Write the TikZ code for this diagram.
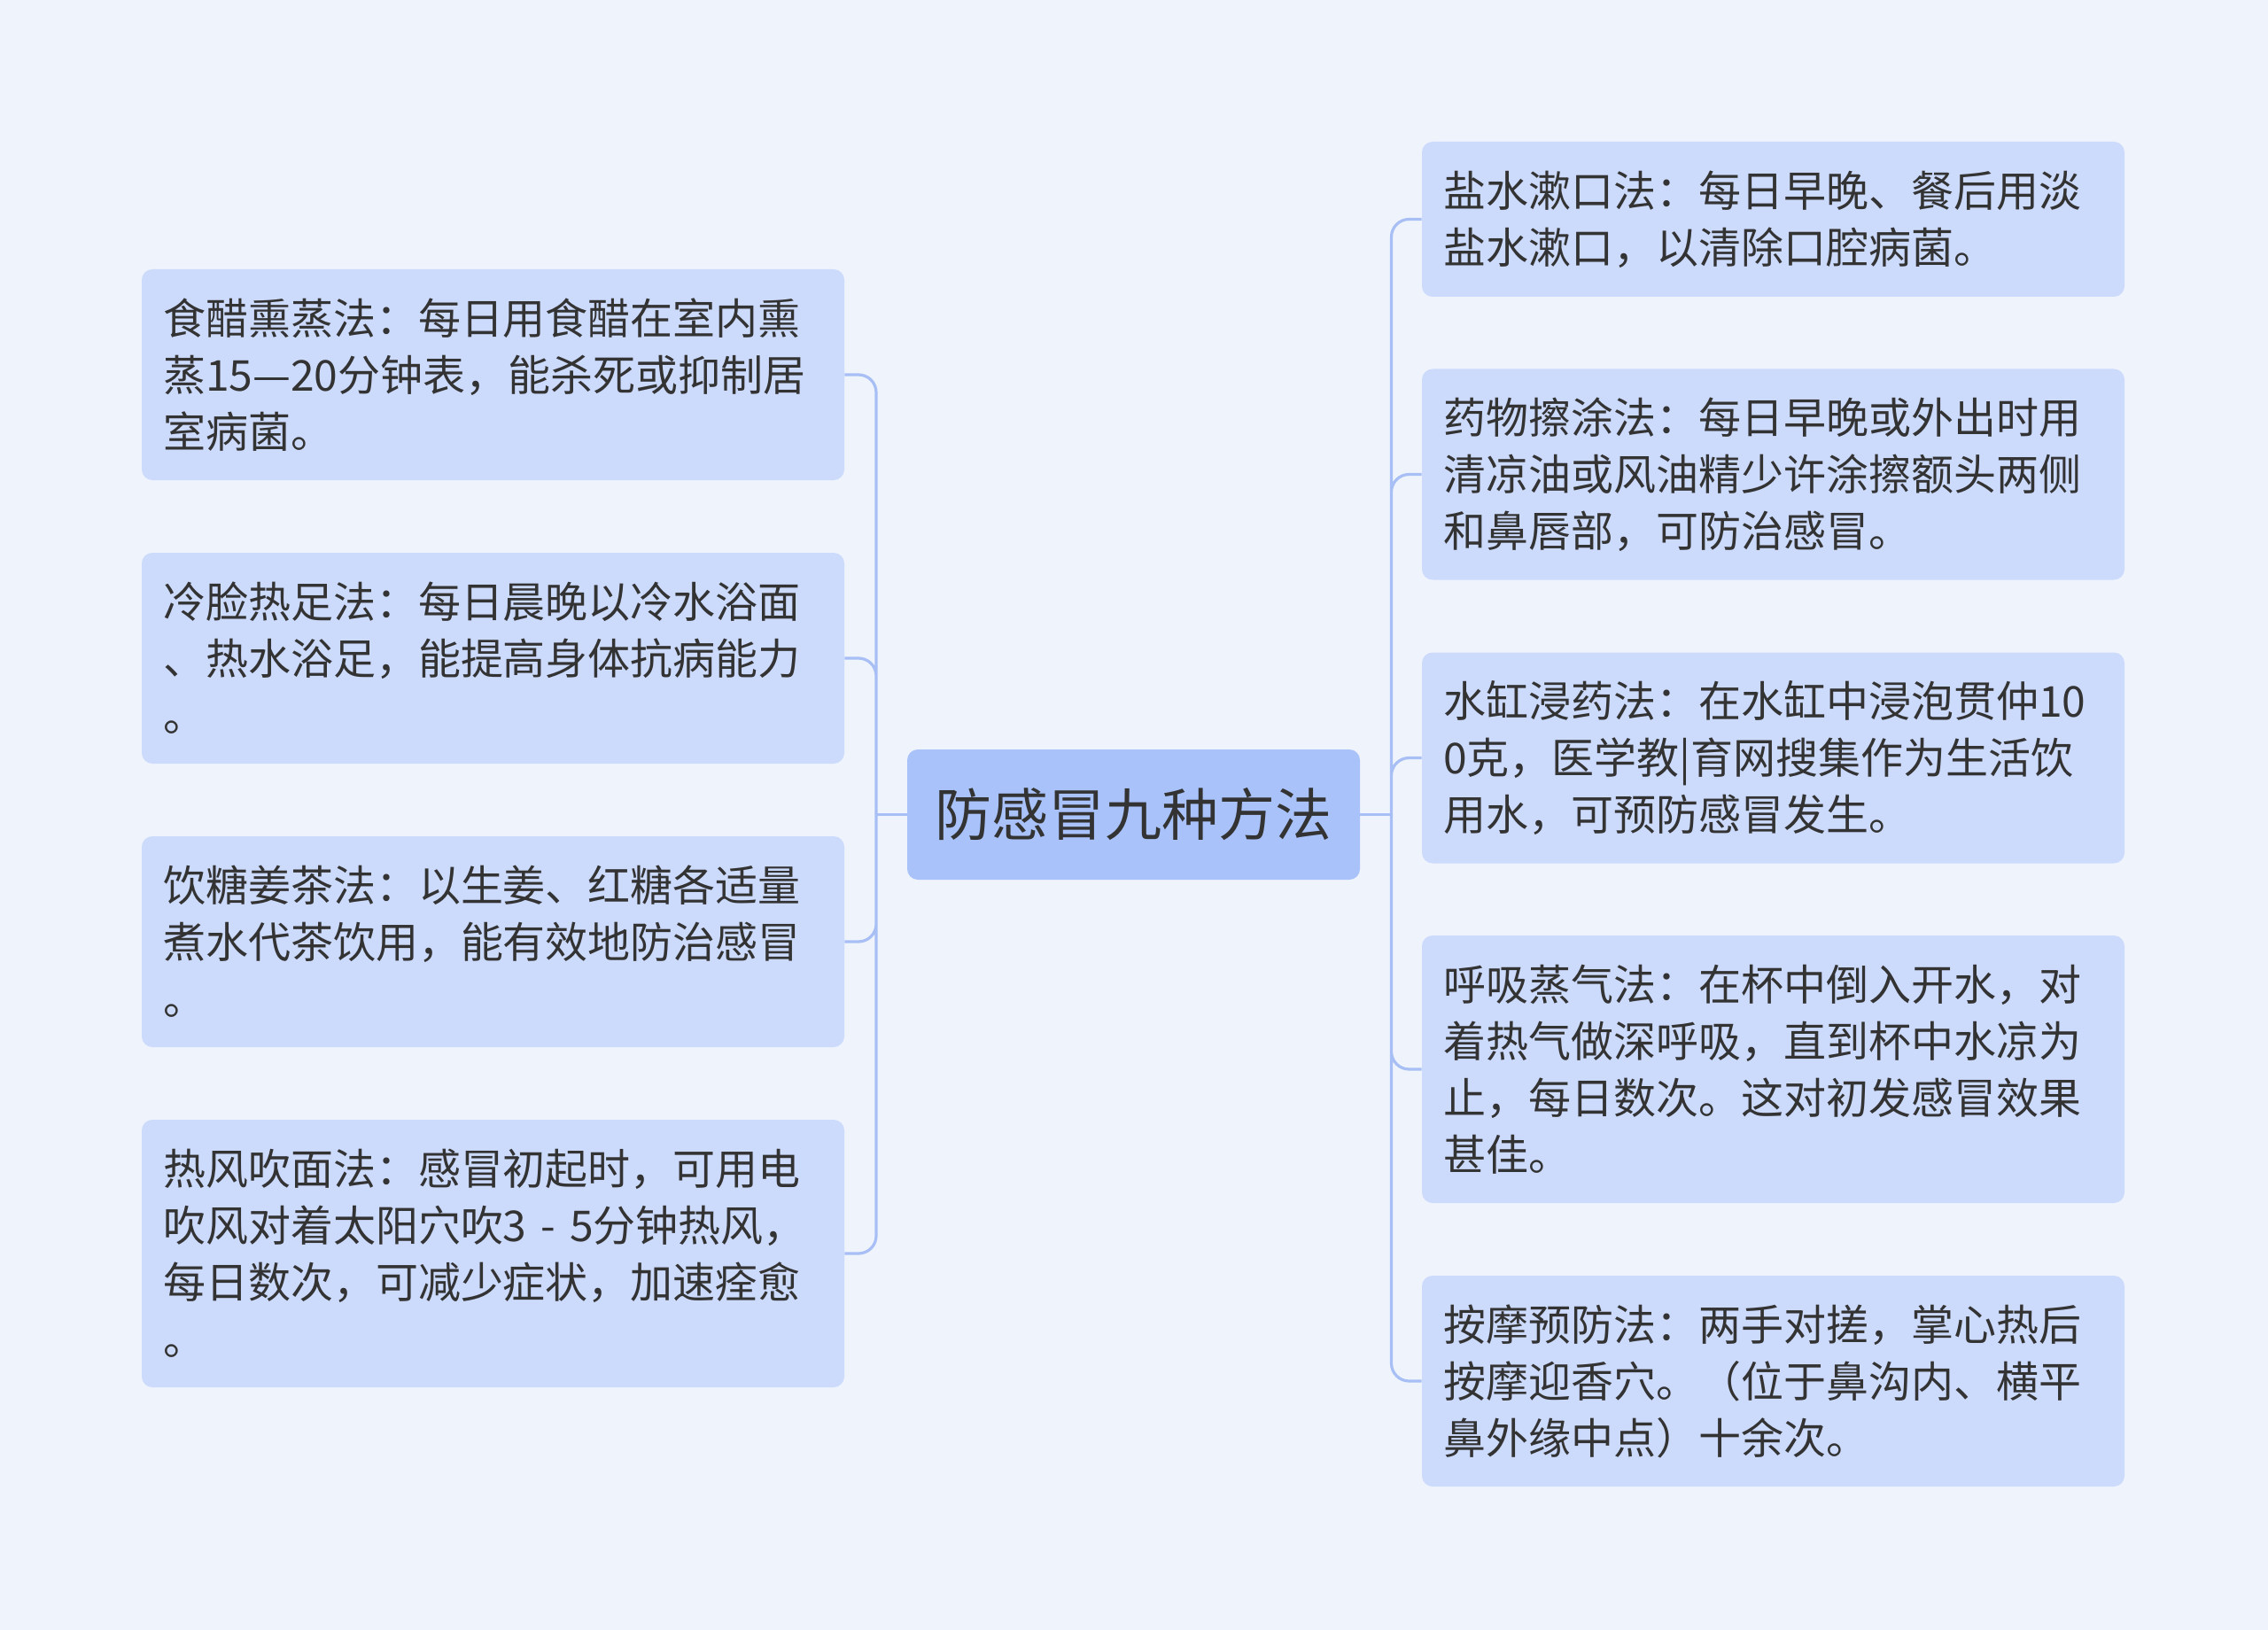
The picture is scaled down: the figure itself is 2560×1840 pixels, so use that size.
\documentclass[tikz,border=0pt]{standalone}
\usepackage{fontspec}
\usepackage{xcolor}
\setmainfont{Noto Sans CJK SC}
\usetikzlibrary{positioning}
\definecolor{bgblue}{HTML}{EFF3FC}
\definecolor{leafblue}{HTML}{CCDAFC}
\definecolor{rootblue}{HTML}{A9C2FA}
\definecolor{linkblue}{HTML}{A7BFF5}
\definecolor{inkgray}{HTML}{333333}

\begin{document}
\begin{tikzpicture}[x=0.5pt, y=-0.5pt,
        leaf/.style={rectangle, rounded corners=6pt, fill=leafblue, text=inkgray, text width=372.5pt, inner xsep=12pt, inner ysep=0pt, minimum height=119pt, align=left, font=\fontsize{24}{32}\selectfont},
        root/.style={rectangle, rounded corners=6pt, fill=rootblue, text=inkgray, minimum width=255.5pt, minimum height=73.5pt, font=\fontsize{32}{38}\selectfont},
        link/.style={draw=linkblue, line width=1.6pt, rounded corners=10pt}]
                        \fill[bgblue] (0, 0) rectangle (2560, 1840);
                        \useasboundingbox (0, 0) rectangle (2560, 1840);
                        \node[root] (root) at (1279.5, 919.5) {防感冒九种方法};
                        \node[leaf] (l1) at (556.5, 423) {食醋熏蒸法：每日用食醋在室内熏\\蒸15—20分钟表，能杀死或抑制居\\室病菌。};
                        \node[leaf] (l2) at (556.5, 743) {冷脸热足法：每日晨晚以冷水浴面\\、热水浴足，能提高身体抗病能力\\。};
                        \node[leaf] (l3) at (556.5, 1063) {饮糖姜茶法：以生姜、红糖各适量\\煮水代茶饮用，能有效地防治感冒\\。};
                        \node[leaf, minimum height=151pt] (l4) at (556.5, 1415) {热风吹面法：感冒初起时，可用电\\吹风对着太阳穴吹3 - 5分钟热风，\\每日数次，可减少症状，加速痊愈\\。};
                        \node[leaf, minimum height=87.5pt] (r1) at (2001.5, 247.5) {盐水漱口法：每日早晚、餐后用淡\\盐水漱口，以清除口腔病菌。};
                        \node[leaf] (r2) at (2001.5, 535.5) {药物擦涂法：每日早晚或外出时用\\清凉油或风油精少许涂擦额头两侧\\和鼻唇部，可防治感冒。};
                        \node[leaf] (r3) at (2001.5, 855.5) {水缸浸药法：在水缸中浸泡贯仲10\\0克，医学教|育网搜集作为生活饮\\用水，可预防感冒发生。};
                        \node[leaf, minimum height=151pt] (r4) at (2001.5, 1207) {呼吸蒸气法：在杯中倒入开水，对\\着热气做深呼吸，直到杯中水凉为\\止，每日数次。这对初发感冒效果\\甚佳。};
                        \node[leaf] (r5) at (2001.5, 1559) {按摩预防法：两手对搓，掌心热后\\按摩迎香穴。（位于鼻沟内、横平\\鼻外缘中点）十余次。};
                        \coordinate (lhub) at (989, 919.5);
                        \coordinate (rhub) at (1570.5, 919.5);
                        \draw[link]
                        (root.west) -- (lhub) (root.east) -- (rhub);
                        \draw[link]
                        (lhub) |- (l1.east) (lhub) |- (l2.east) (lhub) |- (l3.east) (lhub) |- (l4.east);
                        \draw[link]
                        (rhub) |- (r1.west) (rhub) |- (r2.west) (rhub) |- (r3.west) (rhub) |- (r4.west) (rhub) |- (r5.west);
                    \end{tikzpicture}
\end{document}
